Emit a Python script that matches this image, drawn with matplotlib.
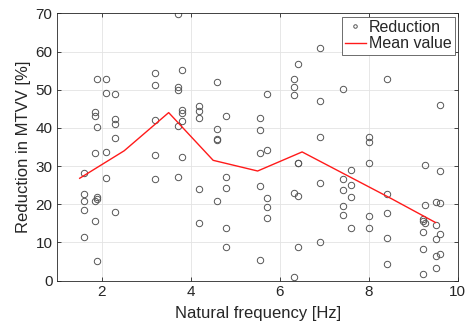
import matplotlib
matplotlib.use('Agg')
import matplotlib.pyplot as plt
import numpy as np

# scatter data: natural frequency [Hz] and reduction [%]
freq_159 = [28.3, 22.7, 20.9, 18.6, 11.5]
freq_185 = [44.2, 43.1, 33.5, 20.9, 15.5]
freq_189 = [52.7, 40.3, 21.9, 21.3, 5.0]
freq_209 = [52.9, 49.2, 33.7, 26.8]
freq_229 = [48.8, 42.2, 41.0, 37.4, 17.9]
freq_319 = [54.3, 51.2, 42.0, 33.0, 26.6]
freq_370 = [69.9, 50.7, 49.9, 40.4, 27.2]
freq_380 = [55.2, 44.8, 43.8, 41.8, 32.5]
freq_419 = [45.7, 44.4, 42.7, 24.0, 15.1]
freq_459 = [52.0, 39.7, 37.2, 36.7, 20.8]
freq_480 = [43.2, 27.0, 24.2, 13.7, 8.8]
freq_556 = [42.7, 39.4, 33.3, 24.7, 5.4]
freq_570 = [49.0, 34.3, 21.5, 19.2, 16.4]
freq_631 = [52.8, 50.8, 48.5, 23.0, 1.0]
freq_641 = [56.8, 30.8, 30.8, 22.2, 8.8]
freq_691 = [61.0, 47.0, 37.7, 25.6, 10.0]
freq_741 = [50.1, 26.5, 23.7, 19.5, 17.1]
freq_761 = [28.9, 25.0, 21.9, 13.8]
freq_801 = [37.7, 36.2, 30.7, 17.0, 13.7]
freq_840 = [52.7, 22.6, 17.7, 11.1, 4.3]
freq_922 = [16.2, 15.5, 12.6, 8.2, 1.7]
freq_926 = [30.4, 19.8, 15.0]
freq_952 = [20.6, 14.5, 11.0, 6.5, 3.3]
freq_961 = [46.0, 28.7, 20.4, 12.1, 6.9]

groups = {
    1.59: freq_159, 1.85: freq_185, 1.89: freq_189, 2.09: freq_209,
    2.29: freq_229, 3.19: freq_319, 3.70: freq_370, 3.80: freq_380,
    4.19: freq_419, 4.59: freq_459, 4.80: freq_480, 5.56: freq_556,
    5.70: freq_570, 6.31: freq_631, 6.41: freq_641, 6.91: freq_691,
    7.41: freq_741, 7.61: freq_761, 8.01: freq_801, 8.40: freq_840,
    9.22: freq_922, 9.26: freq_926, 9.52: freq_952, 9.61: freq_961,
}

# mean value line
mean_freq = [1.5, 2.5, 3.5, 4.5, 5.5, 6.5, 7.5, 8.5, 9.5]
mean_red = [26.8, 34.0, 44.0, 31.5, 28.7, 33.7, 27.6, 21.5, 15.2]

x = []
y = []
for f, vals in groups.items():
    x += [f] * len(vals)
    y += vals

plt.rcParams['font.family'] = ['Liberation Sans', 'DejaVu Sans']
dark = '#262626'

fig = plt.figure(figsize=(4.71, 3.34), dpi=100)
ax = fig.add_axes([0.122, 0.160, 0.850, 0.800])

ax.plot(x, y, 'o', markersize=4.6, markerfacecolor='none',
        markeredgecolor='#555555', markeredgewidth=0.7, label='Reduction')
ax.plot(mean_freq, mean_red, '-', color='#ff1a1a', linewidth=1.0, label='Mean value')

ax.set_xlim(1, 10)
ax.set_ylim(0, 70)
ax.set_xticks(np.arange(2, 11, 2))
ax.set_yticks(np.arange(0, 71, 10))
ax.grid(True, color='#e3e3e3', linewidth=0.6)
ax.set_axisbelow(True)

ax.tick_params(direction='in', top=True, right=True, length=3, width=0.6,
               colors=dark, labelsize=11)
for s in ax.spines.values():
    s.set_color(dark)
    s.set_linewidth(0.6)

ax.set_xlabel('Natural frequency [Hz]', fontsize=12, color=dark, labelpad=5)
ax.set_ylabel('Reduction in MTVV [%]', fontsize=12, color=dark, labelpad=3)

leg = ax.legend(loc='upper right', fontsize=11.5, fancybox=False, framealpha=1,
                edgecolor='#555555', handlelength=1.35, handletextpad=0.15,
                borderpad=0.2, labelspacing=0.1, borderaxespad=0.2,
                markerscale=0.55)
leg.get_frame().set_linewidth(0.6)
for t in leg.get_texts():
    t.set_color(dark)

fig.savefig('out.png', dpi=100)
